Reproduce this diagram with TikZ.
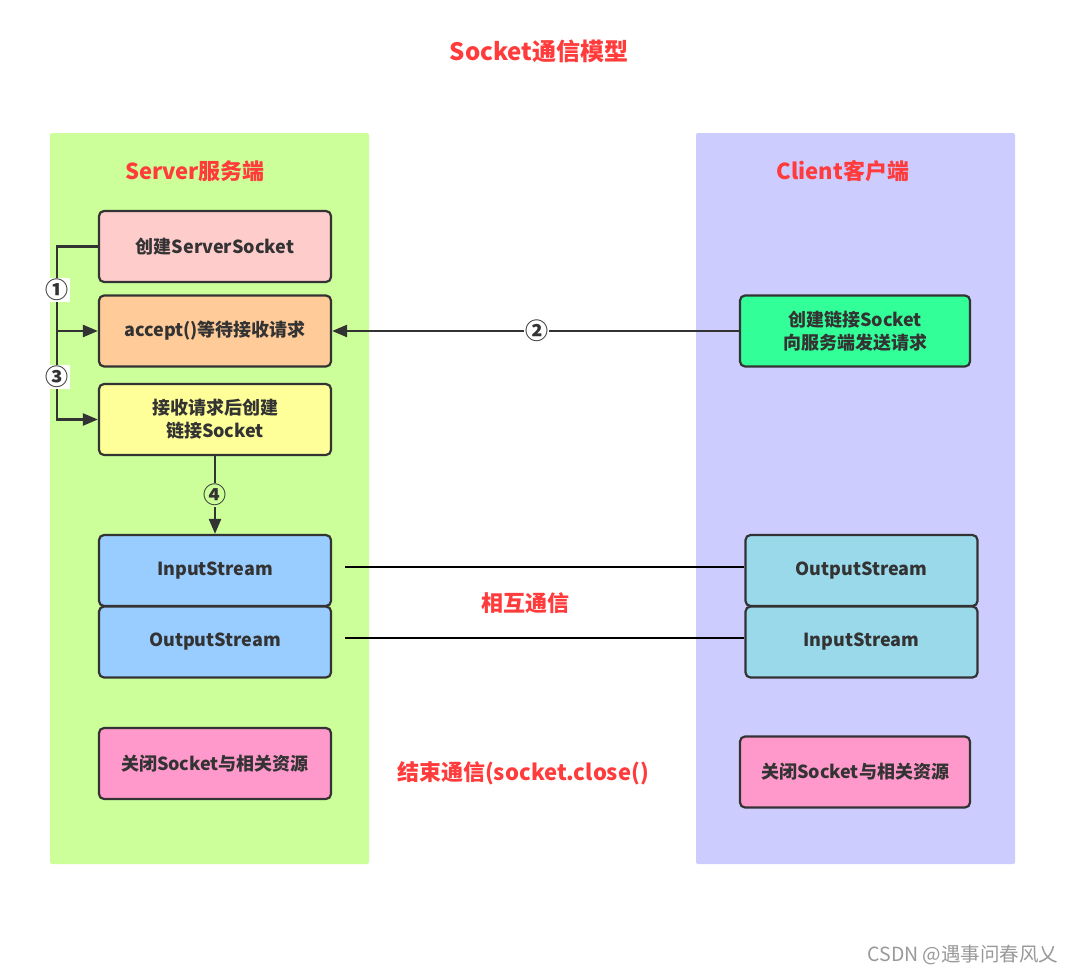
\documentclass[tikz,border=0pt]{standalone}
\usepackage{fontspec}
\setmainfont{Noto Sans CJK SC}
\usetikzlibrary{arrows.meta}
\definecolor{tred}{HTML}{FF3B3B}
\definecolor{bord}{HTML}{333333}
\definecolor{txt}{HTML}{333333}
\definecolor{greenp}{HTML}{CCFF99}
\definecolor{bluep}{HTML}{CCCCFF}
\definecolor{cpink}{HTML}{FFCCCC}
\definecolor{corange}{HTML}{FFCC99}
\definecolor{cyellow}{HTML}{FFFF99}
\definecolor{cblue}{HTML}{99CCFF}
\definecolor{cmag}{HTML}{FF99CC}
\definecolor{cgreen}{HTML}{33FF99}
\definecolor{ccyan}{HTML}{99D9EA}
\tikzset{
  panel/.style={draw=none, rounded corners=2pt},
  boxn/.style={draw=bord, line width=2.2pt, rounded corners=5pt, minimum width=232pt, minimum height=71pt, inner sep=0pt, align=center, text=txt, font=\fontsize{18}{23}\selectfont\bfseries},
  redt/.style={text=tred, font=\fontsize{22}{25}\selectfont\bfseries},
  conn/.style={draw=bord, line width=2.4pt},
  arr/.style={conn, -{Triangle[length=15pt,width=12pt]}},
  lbl/.style={fill=white, inner sep=1pt, text=bord, font=\fontsize{23}{23}\selectfont\bfseries}
}
\begin{document}
\begin{tikzpicture}[x=1pt,y=-1pt]
\useasboundingbox (0,0) rectangle (1073,974);
\fill[white] (0,0) rectangle (1073,974);
% panels
\fill[greenp, panel] (50,133) rectangle (369,864);
\fill[bluep, panel] (696,133) rectangle (1015,864);
% titles
\node[redt, font=\fontsize{24}{27}\selectfont\bfseries] (title) at (539,51) {Socket通信模型};
\node[redt] (srv) at (195,171) {Server服务端};
\node[redt] (cli) at (843,171) {Client客户端};
% server boxes
\node[boxn, fill=cpink] (create) at (215,246.5) {创建ServerSocket};
\node[boxn, fill=corange] (accept) at (215,331) {accept()等待接收请求};
\node[boxn, fill=cyellow] (recv) at (215,419.5) {接收请求后创建\\链接Socket};
\node[boxn, fill=cblue] (sin) at (215,570.5) {InputStream};
\node[boxn, fill=cblue] (sout) at (215,642) {OutputStream};
\node[boxn, fill=cmag] (sclose) at (215,763.5) {关闭Socket与相关资源};
% client boxes
\node[boxn, fill=cgreen, minimum width=230pt] (cconn) at (855,331) {创建链接Socket\\向服务端发送请求};
\node[boxn, fill=ccyan] (cout) at (861.5,570.5) {OutputStream};
\node[boxn, fill=ccyan] (cin) at (861.5,642) {InputStream};
\node[boxn, fill=cmag, minimum width=230pt] (cclose) at (855,772) {关闭Socket与相关资源};
% connectors
\coordinate (j1) at (57,246.5);
\coordinate (j2) at (57,331);
\coordinate (j3) at (57,419.5);
\draw[arr] (create.west) -- (j1) -- (j2) -- (accept.west);
\draw[arr] (j2) -- (j3) -- (recv.west);
\node[lbl] (l1) at (57,290) {①};
\node[lbl] (l3) at (57,377) {③};
\draw[arr] (cconn.west) -- (accept.east) node[lbl, pos=0.497] (l2) {②};
\draw[arr] (recv.south) -- (sin.north) node[lbl, pos=0.5, fill=greenp] (l4) {④};
\coordinate (a1) at (345,567);
\coordinate (a2) at (345,638);
\draw[conn, draw=black] (a1) -- (cout.west |- a1);
\draw[conn, draw=black] (a2) -- (cin.west |- a2);
% texts
\node[redt] (mutual) at (525,603) {相互通信};
\node[redt] (endc) at (523,773) {结束通信(socket.close()};
\node[text=gray!80, font=\fontsize{19.5}{20}\selectfont] (wm) at (963,955) {CSDN @遇事问春风乂};
\end{tikzpicture}
\end{document}
